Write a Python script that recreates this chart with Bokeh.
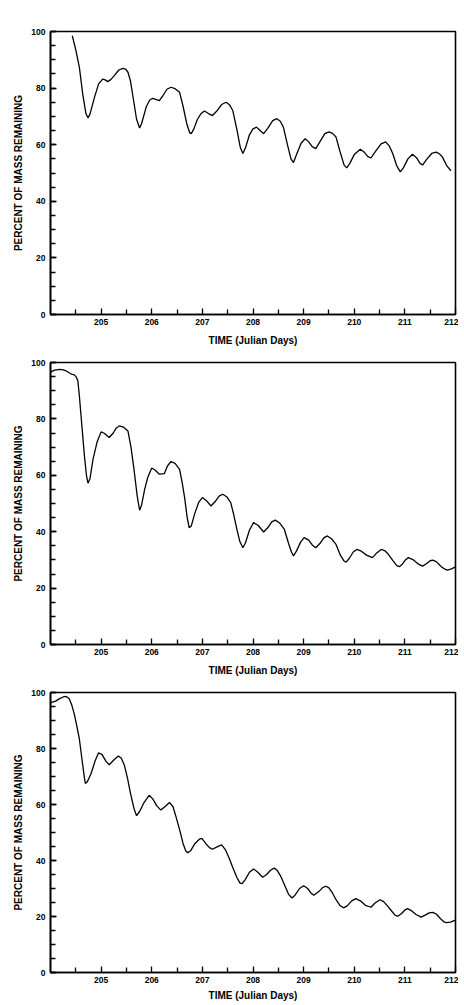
from bokeh.plotting import figure
from bokeh.layouts import column
from bokeh.models import FixedTicker, Range1d
from bokeh.embed import file_html
from bokeh.resources import INLINE

# Panel 1 (top)
days1 = [204.43, 204.50, 204.57, 204.64, 204.70, 204.74, 204.78, 204.87, 204.95, 205.03, 205.08,
         205.13, 205.19, 205.26, 205.35, 205.43, 205.49, 205.53, 205.58, 205.62, 205.70, 205.76,
         205.80, 205.89, 205.96, 206.02, 206.08, 206.15, 206.22, 206.30, 206.38, 206.46, 206.55,
         206.62, 206.69, 206.75, 206.78, 206.83, 206.90, 206.97, 207.04, 207.12, 207.20, 207.28,
         207.38, 207.47, 207.54, 207.60, 207.68, 207.75, 207.80, 207.85, 207.93, 208.00, 208.07,
         208.14, 208.21, 208.29, 208.39, 208.47, 208.54, 208.60, 208.68, 208.75, 208.80, 208.86,
         208.95, 209.03, 209.10, 209.17, 209.24, 209.32, 209.42, 209.50, 209.57, 209.64, 209.72,
         209.80, 209.85, 209.91, 210.00, 210.12, 210.20, 210.27, 210.33, 210.42, 210.53, 210.62,
         210.69, 210.76, 210.84, 210.91, 210.97, 211.06, 211.15, 211.23, 211.30, 211.35, 211.43,
         211.53, 211.62, 211.68, 211.74, 211.83, 211.91]
mass1 = [98.5, 93.5, 87.3, 77.5, 71.0, 69.5, 70.8, 76.8, 81.5, 83.2, 82.9,
         82.3, 83.0, 84.4, 86.4, 87.0, 86.6, 85.6, 82.5, 78.0, 69.0, 65.9,
         67.5, 73.3, 75.8, 76.4, 76.0, 75.6, 77.3, 79.6, 80.3, 79.8, 78.5,
         73.5, 67.5, 64.2, 63.9, 65.5, 68.9, 70.9, 71.9, 71.0, 70.3, 71.8,
         74.2, 75.0, 74.0, 72.1, 65.5, 59.0, 56.9, 58.8, 63.5, 65.6, 66.2,
         65.0, 63.9, 65.8, 68.5, 69.2, 68.3, 66.2, 60.0, 55.0, 53.7, 56.5,
         60.5, 62.1, 61.0, 59.3, 58.6, 61.0, 63.9, 64.5, 64.0, 62.7, 57.5,
         52.8, 51.8, 53.3, 56.5, 58.4, 57.3, 55.8, 55.3, 57.6, 60.3, 61.0,
         59.6, 56.9, 52.5, 50.4, 51.8, 55.0, 56.6, 55.4, 53.4, 52.8, 54.8,
         56.9, 57.4, 56.8, 55.7, 52.5, 50.8]

# Panel 2 (middle)
days2 = [204.01, 204.08, 204.18, 204.25, 204.31, 204.41, 204.47, 204.51, 204.54, 204.57, 204.62,
         204.67, 204.71, 204.74, 204.78, 204.84, 204.92, 205.00, 205.06, 205.16, 205.24, 205.30,
         205.36, 205.44, 205.53, 205.59, 205.65, 205.71, 205.76, 205.80, 205.86, 205.92, 206.00,
         206.07, 206.15, 206.25, 206.31, 206.38, 206.46, 206.55, 206.60, 206.65, 206.70, 206.74,
         206.78, 206.85, 206.93, 207.00, 207.08, 207.17, 207.25, 207.33, 207.40, 207.48, 207.56,
         207.62, 207.68, 207.74, 207.80, 207.85, 207.93, 208.01, 208.10, 208.21, 208.30, 208.37,
         208.44, 208.52, 208.62, 208.70, 208.76, 208.80, 208.86, 208.94, 209.01, 209.10, 209.17,
         209.24, 209.33, 209.40, 209.47, 209.55, 209.64, 209.73, 209.80, 209.84, 209.90, 209.98,
         210.05, 210.14, 210.25, 210.36, 210.44, 210.53, 210.60, 210.66, 210.76, 210.84, 210.89,
         210.95, 211.01, 211.07, 211.17, 211.27, 211.35, 211.43, 211.50, 211.55, 211.62, 211.72,
         211.80, 211.84, 211.92, 212.00]
mass2 = [96.7, 97.3, 97.6, 97.4, 97.0, 95.9, 95.6, 94.8, 93.5, 88.2, 77.5,
         66.9, 60.0, 57.2, 58.8, 65.7, 71.8, 75.4, 74.9, 73.4, 75.0, 76.8,
         77.5, 77.1, 75.7, 70.0, 62.0, 53.0, 47.6, 49.5, 55.0, 59.2, 62.6,
         61.8, 60.4, 60.6, 63.3, 64.9, 64.2, 62.1, 57.5, 52.0, 45.0, 41.4,
         42.0, 46.5, 50.5, 52.1, 51.0, 49.1, 50.6, 52.6, 53.3, 52.4, 50.3,
         46.0, 41.0, 36.5, 34.3, 36.0, 40.5, 43.2, 42.3, 39.9, 41.6, 43.5,
         44.1, 43.2, 40.8, 36.0, 32.8, 31.4, 33.2, 36.3, 37.9, 37.0, 35.3,
         34.3, 36.0, 37.8, 38.5, 37.5, 35.5, 31.5, 29.6, 29.2, 30.5, 32.8,
         33.7, 33.1, 31.6, 30.8, 32.4, 33.7, 33.3, 32.3, 29.8, 28.0, 27.6,
         28.5, 30.0, 30.8, 30.0, 28.5, 27.8, 28.7, 29.7, 29.9, 29.4, 27.6,
         26.6, 26.4, 26.8, 27.5]

# Panel 3 (bottom)
days3 = [204.01, 204.11, 204.18, 204.25, 204.31, 204.37, 204.42, 204.47, 204.52, 204.57, 204.63,
         204.67, 204.69, 204.73, 204.80, 204.88, 204.95, 205.02, 205.09, 205.16, 205.24, 205.34,
         205.40, 205.46, 205.52, 205.58, 205.65, 205.70, 205.76, 205.85, 205.95, 206.02, 206.10,
         206.18, 206.27, 206.35, 206.42, 206.48, 206.55, 206.62, 206.67, 206.71, 206.77, 206.85,
         206.94, 206.99, 207.07, 207.14, 207.20, 207.28, 207.38, 207.45, 207.53, 207.60, 207.68,
         207.74, 207.78, 207.84, 207.93, 208.01, 208.09, 208.19, 208.27, 208.35, 208.42, 208.48,
         208.55, 208.63, 208.70, 208.77, 208.83, 208.92, 209.00, 209.08, 209.14, 209.20, 209.30,
         209.38, 209.44, 209.50, 209.57, 209.64, 209.72, 209.79, 209.86, 209.95, 210.03, 210.12,
         210.22, 210.33, 210.41, 210.51, 210.58, 210.66, 210.75, 210.81, 210.86, 210.93, 211.00,
         211.05, 211.12, 211.22, 211.32, 211.40, 211.48, 211.55, 211.62, 211.70, 211.77, 211.82,
         211.90, 212.00]
mass3 = [96.4, 97.0, 97.8, 98.4, 98.6, 97.8, 95.5, 92.3, 88.0, 83.4, 75.0,
         69.5, 67.5, 68.2, 71.0, 75.5, 78.5, 77.8, 75.6, 74.2, 75.7, 77.3,
         76.5, 74.0, 69.5, 64.0, 58.5, 56.0, 57.5, 60.8, 63.3, 62.0, 59.5,
         58.0, 59.4, 60.7, 59.2, 55.6, 51.0, 46.0, 43.5, 42.8, 43.5, 46.0,
         47.6, 47.9, 46.0, 44.6, 44.0, 44.8, 45.6, 44.0, 40.8, 37.5, 34.0,
         32.0, 31.7, 33.0, 35.8, 37.0, 35.9, 34.0, 35.0, 36.6, 37.3, 36.4,
         34.3, 31.0, 28.0, 26.6, 27.6, 30.0, 31.0, 30.0, 28.5, 27.6, 28.9,
         30.4, 30.8, 30.2, 28.4, 26.0, 23.9, 23.1, 23.8, 25.6, 26.4, 25.6,
         24.0, 23.3, 24.8, 26.0, 25.3, 23.7, 21.7, 20.4, 20.1, 21.0, 22.3,
         22.8, 22.2, 20.7, 19.8, 20.5, 21.3, 21.5, 20.9, 19.3, 18.1, 17.8,
         18.0, 18.7]

x_major = [205, 206, 207, 208, 209, 210, 211, 212]
x_minor = [204.5, 205.5, 206.5, 207.5, 208.5, 209.5, 210.5, 211.5]
y_major = [0, 20, 40, 60, 80, 100]
y_minor = list(range(0, 101, 5))

x_title = "TIME (Julian Days)"
y_title = "PERCENT OF MASS REMAINING"

FONT = "Liberation Sans"


def make_panel(xs, ys, height, top, bottom, label_gap):
    p = figure(width=458, height=height, output_backend="svg", toolbar_location=None,
               x_range=Range1d(204, 212), y_range=Range1d(0, 100),
               min_border_left=50, min_border_right=3,
               min_border_top=top, min_border_bottom=bottom)
    p.line(xs, ys, line_color="black", line_width=1.3)
    p.grid.visible = False
    p.outline_line_color = "black"
    p.outline_line_width = 1.6
    p.outline_line_alpha = 1.0
    p.xaxis.ticker = FixedTicker(ticks=x_major, minor_ticks=x_minor)
    p.yaxis.ticker = FixedTicker(ticks=y_major, minor_ticks=y_minor)
    p.xaxis.axis_label = x_title
    p.yaxis.axis_label = y_title
    for ax in (p.xaxis, p.yaxis):
        ax.axis_line_color = "black"
        ax.axis_line_width = 1.6
        ax.major_tick_in = 6
        ax.major_tick_out = 0
        ax.minor_tick_in = 5
        ax.minor_tick_out = 0
        ax.major_tick_line_color = "black"
        ax.minor_tick_line_color = "black"
        ax.major_tick_line_width = 1.3
        ax.minor_tick_line_width = 1.3
        ax.major_label_text_font = FONT
        ax.major_label_text_font_style = "bold"
        ax.major_label_text_font_size = "8.5px"
        ax.major_label_text_color = "black"
        ax.axis_label_text_font = FONT
        ax.axis_label_text_font_style = "bold"
        ax.axis_label_text_font_size = "10px"
        ax.axis_label_text_color = "black"
    p.xaxis.major_label_standoff = 4
    p.xaxis.axis_label_standoff = label_gap
    p.yaxis.major_label_standoff = 5
    p.yaxis.axis_label_standoff = 4
    return p


p1 = make_panel(days1, mass1, 349, 31, 35, 7)
p2 = make_panel(days2, mass2, 330, 13, 35, 7)
p3 = make_panel(days3, mass3, 324, 13, 29, 4)

layout = column(p1, p2, p3, spacing=0)
open("out.html", "w").write(file_html(layout, INLINE))
